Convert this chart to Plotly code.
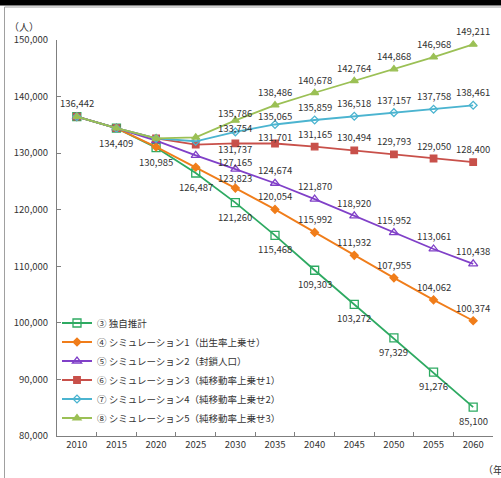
import plotly.graph_objects as go

# Projected population by scenario (persons)
years = ["2010", "2015", "2020", "2025", "2030", "2035", "2040", "2045", "2050", "2055", "2060"]
names = [
    "③ 独自推計",
    "④ シミュレーション1（出生率上乗せ）",
    "⑤ シミュレーション2（封鎖人口）",
    "⑥ シミュレーション3（純移動率上乗せ1）",
    "⑦ シミュレーション4（純移動率上乗せ2）",
    "⑧ シミュレーション5（純移動率上乗せ3）",
]
s3 = [136442, 134409, 130985, 126487, 121260, 115468, 109303, 103272, 97329, 91276, 85100]
s4 = [136442, 134409, 131100, 127500, 123823, 120054, 115992, 111932, 107955, 104062, 100374]
s5 = [136442, 134409, 132200, 129600, 127165, 124674, 121870, 118920, 115952, 113061, 110438]
s6 = [136442, 134409, 132600, 131500, 131737, 131701, 131165, 130494, 129793, 129050, 128400]
s7 = [136442, 134409, 132600, 132100, 133754, 135065, 135859, 136518, 137157, 137758, 138461]
s8 = [136442, 134409, 132600, 132800, 135786, 138486, 140678, 142764, 144868, 146968, 149211]
series = [s3, s4, s5, s6, s7, s8]

# which points carry a value label
labeled = [
    [0, 1, 2, 3, 4, 5, 6, 7, 8, 9, 10],
    [4, 5, 6, 7, 8, 9, 10],
    [4, 5, 6, 7, 8, 9, 10],
    [4, 5, 6, 7, 8, 9, 10],
    [4, 5, 6, 7, 8, 9, 10],
    [4, 5, 6, 7, 8, 9, 10],
]

colors = ["#2eaa62", "#f07d1a", "#8040c8", "#c8504a", "#4bb4d0", "#9bc055"]
symbols = ["square-open", "diamond", "triangle-up-open", "square", "diamond-open", "triangle-up"]
sizes = [8, 6, 8, 6.5, 6, 7]

# label placement: vertical shift in pixels (positive = above the point)
default_shift = [-14, 13, 13, 13, 13, 13]
shift_override = {
    (0, 0): 14, (0, 1): -15,
    (1, 4): 10,
    (2, 4): 7,
    (3, 4): -6, (3, 5): 7,
    (4, 4): 4, (4, 5): 8,
    (5, 4): 7,
}

fig = go.Figure()
annotations = []
for k, (name, vals) in enumerate(zip(names, series)):
    fig.add_trace(go.Scatter(
        x=years, y=vals, name=name, mode="lines+markers",
        line=dict(color=colors[k], width=1.8),
        marker=dict(symbol=symbols[k], size=sizes[k], color=colors[k],
                    line=dict(color=colors[k], width=1.3)),
    ))
    for i in labeled[k]:
        # category axis: annotation x given as the category index
        annotations.append(dict(
            x=i, y=vals[i], xref="x", yref="y",
            text=f"{vals[i]:,}", showarrow=False,
            yshift=shift_override.get((k, i), default_shift[k]),
            font=dict(size=9.5, color="#333333"),
            xanchor="center", yanchor="middle",
        ))

# axis unit captions
annotations.append(dict(x=-0.075, y=1.035, xref="paper", yref="paper", text="（人）",
                        showarrow=False, xanchor="center", yanchor="middle",
                        font=dict(size=10, color="#333333")))
annotations.append(dict(x=0.972, y=-0.085, xref="paper", yref="paper", text="（年）",
                        showarrow=False, xanchor="left", yanchor="middle",
                        font=dict(size=10, color="#333333")))

shapes = [
    dict(type="rect", xref="paper", yref="paper", x0=-0.14, x1=1.03,
         y0=1.0871, y1=1.1010, fillcolor="black", line=dict(width=0)),
    dict(type="line", xref="paper", yref="paper", x0=-0.1204, x1=-0.1204,
         y0=1.0833, y1=-0.12, line=dict(color="#a0a0a0", width=1)),
    dict(type="line", xref="paper", yref="paper", x0=-0.1204, x1=1.03,
         y0=1.0833, y1=1.0833, line=dict(color="#a0a0a0", width=1)),
]

fig.update_layout(
    width=501, height=478,
    margin=dict(l=57, r=8, t=40, b=42),
    paper_bgcolor="white", plot_bgcolor="white",
    font=dict(family="Noto Sans CJK JP", size=9.5, color="#333333"),
    showlegend=True,
    legend=dict(x=0.0, y=0.322, xanchor="left", yanchor="top",
                bgcolor="rgba(0,0,0,0)", font=dict(size=9.5, color="#333333")),
    annotations=annotations,
    shapes=shapes,
    xaxis=dict(type="category", range=[-0.5, 10.5], tickson="boundaries",
               ticks="inside", ticklen=4, tickcolor="#7f7f7f",
               showline=True, linecolor="#7f7f7f", linewidth=1,
               showgrid=False, zeroline=False,
               tickfont=dict(size=9.5, color="#333333")),
    yaxis=dict(range=[80000, 150000], dtick=10000, tickformat=",",
               ticks="inside", ticklen=4, tickcolor="#7f7f7f",
               showline=True, linecolor="#7f7f7f", linewidth=1,
               showgrid=False, zeroline=False, ticklabelstandoff=6,
               tickfont=dict(size=9.5, color="#333333")),
)

fig.write_html("out.html")
